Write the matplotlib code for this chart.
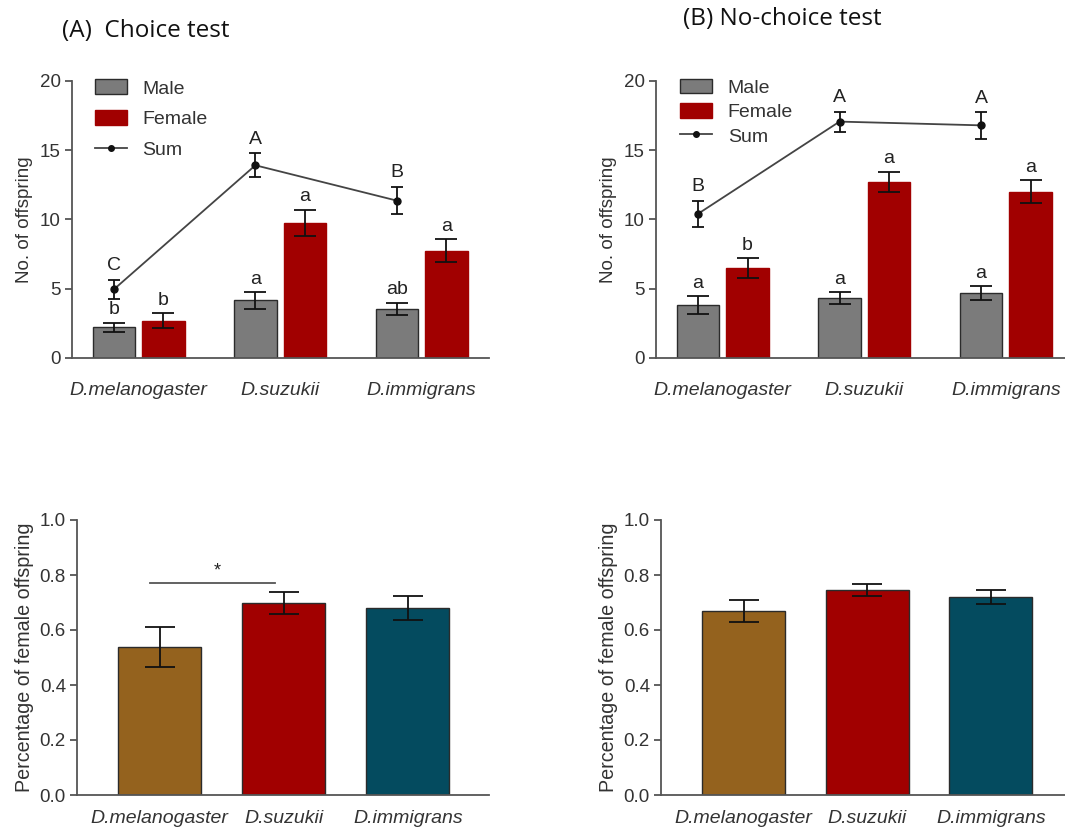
import matplotlib
matplotlib.use("Agg")
import matplotlib.pyplot as plt
from matplotlib.lines import Line2D
from matplotlib.patches import Patch

species = ["D.melanogaster", "D.suzukii", "D.immigrans"]

# (A) Choice test: offspring counts
choice_male = [2.2, 4.15, 3.55]
choice_male_err = [0.35, 0.6, 0.45]
choice_female = [2.7, 9.75, 7.75]
choice_female_err = [0.55, 0.95, 0.8]
choice_sum = [4.95, 13.9, 11.35]
choice_sum_err = [0.7, 0.85, 1.0]
choice_male_letters = ["b", "a", "ab"]
choice_female_letters = ["b", "a", "a"]
choice_sum_letters = ["C", "A", "B"]

# (B) No-choice test: offspring counts
nochoice_male = [3.82, 4.3, 4.68]
nochoice_male_err = [0.67, 0.43, 0.48]
nochoice_female = [6.48, 12.7, 12.0]
nochoice_female_err = [0.72, 0.75, 0.85]
nochoice_sum = [10.4, 17.05, 16.78]
nochoice_sum_err = [0.95, 0.72, 0.95]
nochoice_male_letters = ["a", "a", "a"]
nochoice_female_letters = ["b", "a", "a"]
nochoice_sum_letters = ["B", "A", "A"]

# Proportion of female offspring
choice_ratio = [0.537, 0.700, 0.681]
choice_ratio_err = [0.073, 0.04, 0.043]
nochoice_ratio = [0.669, 0.745, 0.719]
nochoice_ratio_err = [0.04, 0.023, 0.026]

MALE_C = "#7b7b7b"
FEMALE_C = "#a10000"
RATIO_COLORS = ["#94621e", "#a10000", "#044b5f"]
EDGE = "#2b2b2b"
AX_C = "#555555"
TXT_C = "#333333"
SANS = "Liberation Sans"

fig = plt.figure(figsize=(10.65, 8.32), dpi=100)


def style_axes(ax, pad):
    for s in ("top", "right"):
        ax.spines[s].set_visible(False)
    for s in ("left", "bottom"):
        ax.spines[s].set_color(AX_C)
        ax.spines[s].set_linewidth(1.3)
    ax.tick_params(axis="y", direction="out", length=5, width=1.3, color=AX_C,
                   labelsize=13.5, labelcolor=TXT_C, pad=3)
    ax.tick_params(axis="x", length=0, pad=pad, labelsize=14, labelcolor=TXT_C)
    for lab in ax.get_yticklabels():
        lab.set_fontfamily(SANS)
    for lab in ax.get_xticklabels():
        lab.set_fontfamily(SANS)
        lab.set_fontstyle("italic")


def offspring_panel(rect, xlim, male, male_err, female, female_err, tot, tot_err,
                    mlet, flet, slet, leg_spacing, leg_anchor):
    ax = fig.add_axes(rect)
    x = list(range(len(species)))
    w = 0.3
    off = 0.175
    xm = [i - off for i in x]
    xf = [i + off for i in x]
    ekw = dict(ecolor="#111111", elinewidth=1.3, capsize=8, capthick=1.3)
    ax.bar(xm, male, w, color=MALE_C, edgecolor=EDGE, linewidth=1.0,
           yerr=male_err, error_kw=ekw, zorder=2)
    ax.bar(xf, female, w, color=FEMALE_C, edgecolor=FEMALE_C, linewidth=1.0,
           yerr=female_err, error_kw=ekw, zorder=2)
    ax.errorbar(xm, tot, yerr=tot_err, color="#444444", lw=1.3, marker="o",
                markersize=5, markerfacecolor="#111111", markeredgecolor="#111111",
                ecolor="#111111", elinewidth=1.3, capsize=4, capthick=1.3, zorder=3)
    tkw = dict(ha="center", va="bottom", fontsize=14, color="#222222", family=SANS)
    for i in x:
        ax.text(xm[i], male[i] + male_err[i] + 0.3, mlet[i], **tkw)
        ax.text(xf[i], female[i] + female_err[i] + 0.3, flet[i], **tkw)
        ax.text(xm[i], tot[i] + tot_err[i] + 0.4, slet[i], **tkw)
    ax.set_xlim(*xlim)
    ax.set_ylim(0, 20)
    ax.set_yticks([0, 5, 10, 15, 20])
    ax.set_xticks(x)
    ax.set_xticklabels(species)
    ax.set_ylabel("No. of offspring", fontsize=13.5, color=TXT_C, family=SANS, labelpad=5)
    style_axes(ax, 17)
    handles = [
        Patch(facecolor=MALE_C, edgecolor=EDGE, linewidth=1.0),
        Patch(facecolor=FEMALE_C, edgecolor=FEMALE_C),
        Line2D([], [], color="#444444", lw=1.3, marker="o", markersize=4,
               markerfacecolor="#111111", markeredgecolor="#111111"),
    ]
    leg = ax.legend(handles, ["Male", "Female", "Sum"], loc="upper left",
                    bbox_to_anchor=leg_anchor, frameon=False, handlelength=1.65,
                    handleheight=0.8, handletextpad=0.8, labelspacing=leg_spacing,
                    prop={"family": SANS, "size": 14})
    for t in leg.get_texts():
        t.set_color(TXT_C)
    return ax


def ratio_panel(rect, xlim, vals, errs):
    ax = fig.add_axes(rect)
    x = list(range(len(species)))
    ax.bar(x, vals, 0.67, color=RATIO_COLORS, edgecolor=EDGE, linewidth=1.0,
           yerr=errs, error_kw=dict(ecolor="#111111", elinewidth=1.3, capsize=11,
                                    capthick=1.3), zorder=2)
    ax.set_xlim(*xlim)
    ax.set_ylim(0, 1.0)
    ax.set_yticks([0.0, 0.2, 0.4, 0.6, 0.8, 1.0])
    ax.set_yticklabels(["0.0", "0.2", "0.4", "0.6", "0.8", "1.0"])
    ax.set_xticks(x)
    ax.set_xticklabels(species)
    ax.set_ylabel("Percentage of female offspring", fontsize=14.2, color=TXT_C,
                  family=SANS, labelpad=4)
    style_axes(ax, 11)
    return ax


W, H = 1065, 832


def rect(x0, y0, x1, y1):
    return [x0 / W, 1 - y1 / H, (x1 - x0) / W, (y1 - y0) / H]


offspring_panel(rect(72, 80.7, 489, 358), (-0.471, 2.476),
                choice_male, choice_male_err, choice_female, choice_female_err,
                choice_sum, choice_sum_err,
                choice_male_letters, choice_female_letters, choice_sum_letters,
                0.64, (0.013, 1.068))
offspring_panel(rect(656, 80.7, 1065, 358), (-0.472, 2.418),
                nochoice_male, nochoice_male_err, nochoice_female, nochoice_female_err,
                nochoice_sum, nochoice_sum_err,
                nochoice_male_letters, nochoice_female_letters, nochoice_sum_letters,
                0.32, (0.016, 1.071))

axc = ratio_panel(rect(77, 520, 489, 795), (-0.667, 2.655), choice_ratio, choice_ratio_err)
ratio_panel(rect(661, 520, 1065, 795), (-0.67, 2.6), nochoice_ratio, nochoice_ratio_err)

# significance bracket between D.melanogaster and D.suzukii
axc.plot([-0.08, 0.93], [0.772, 0.772], color="#555555", lw=1.3)
axc.text(0.46, 0.783, "*", ha="center", va="bottom", fontsize=13, color="#222222",
         family=SANS)

fig.text(62 / W, 1 - 31 / H, "(A)  Choice test", fontsize=17.5, family="Open Sans",
         color="#111111", va="center", ha="left")
fig.text(683 / W, 1 - 19 / H, "(B) No-choice test", fontsize=17.5, family="Open Sans",
         color="#111111", va="center", ha="left")

fig.savefig("out.png", dpi=100, facecolor="white")
